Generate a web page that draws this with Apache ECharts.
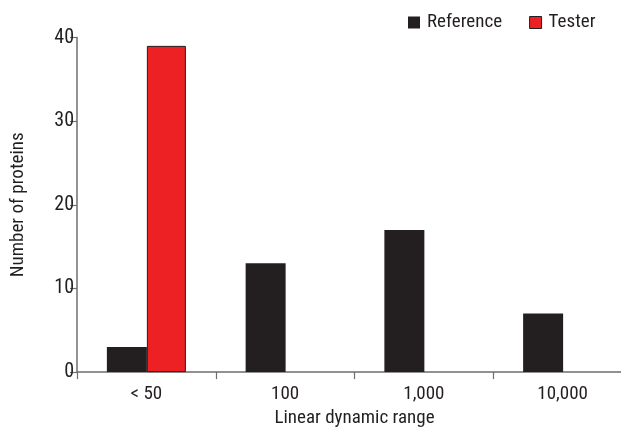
<!DOCTYPE html>
<html>
<head>
<meta charset="utf-8">
<script src="https://cdn.jsdelivr.net/npm/echarts@6/dist/echarts.min.js"></script>
<style>html,body{margin:0;padding:0;background:#fff;overflow:hidden;width:621px;height:433px;}
#w{width:621px;height:433px;overflow:hidden;position:relative;}
#c{position:absolute;left:0;top:0;width:632px;height:433px;}</style>
</head>
<body>
<div id="w"><div id="c"></div></div>
<script>
var categories = ['< 50', '100', '1,000', '10,000'];
var referenceValues = [3, 13, 17, 7];
var testerValues = [39, null, null, null];
var yTicks = [0, 10, 20, 30, 40];

var FONT = '"Liberation Sans Narrow", "Roboto Condensed", "DejaVu Sans Condensed", sans-serif';
var TXT = '#231f20';
var chart = echarts.init(document.getElementById('c'), null, {renderer: 'canvas'});
chart.setOption({
  animation: false,
  legend: {
    top: 8, left: 403, itemWidth: 12, itemHeight: 12, itemGap: 27, icon: 'rect',
    textStyle: {fontFamily: FONT, fontSize: 19, color: TXT, padding: [0, 0, 0, 2]},
    data: [
      {name: 'Reference', itemStyle: {color: '#231f20'}},
      {name: 'Tester', itemStyle: {color: '#ed2024', borderColor: '#231f20', borderWidth: 1}}
    ]
  },
  grid: {left: 77, right: 0, top: 37.5, bottom: 49},
  xAxis: {
    type: 'category', data: categories,
    name: 'Linear dynamic range', nameLocation: 'middle', nameGap: 31,
    nameTextStyle: {fontFamily: FONT, fontSize: 19, color: TXT},
    axisLine: {lineStyle: {color: '#6d6e71', width: 1.5}},
    axisTick: {show: true, length: 7, lineStyle: {color: '#6d6e71', width: 1.2}},
    axisLabel: {fontFamily: FONT, fontSize: 19, color: TXT, margin: 13}
  },
  yAxis: {
    type: 'value', min: yTicks[0], max: yTicks[yTicks.length - 1], interval: 10,
    name: 'Number of proteins', nameLocation: 'middle', nameGap: 49,
    nameTextStyle: {fontFamily: FONT, fontSize: 19, color: TXT},
    splitLine: {show: false},
    axisLine: {show: true, lineStyle: {color: '#6d6e71', width: 1.5}},
    axisTick: {show: true, length: 7, lineStyle: {color: '#6d6e71', width: 1.2}},
    axisLabel: {fontFamily: FONT, fontSize: 20, color: TXT, margin: 3}
  },
  series: [
    {name: 'Reference', type: 'bar', data: referenceValues, barWidth: 40, barGap: '0%',
     itemStyle: {color: '#231f20'}},
    {name: 'Tester', type: 'bar', data: testerValues, barWidth: 39,
     itemStyle: {color: '#ed2024', borderColor: '#231f20', borderWidth: 1}}
  ]
});
</script>
</body>
</html>
